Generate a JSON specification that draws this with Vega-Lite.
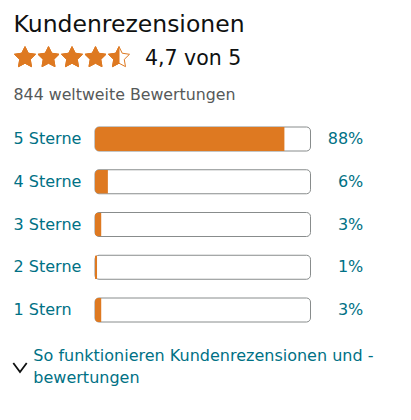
{
  "$schema": "https://vega.github.io/schema/vega-lite/v6.json",
  "width": 411,
  "height": 420,
  "autosize": {"type": "none"},
  "padding": 0,
  "background": "white",
  "config": {"view": {"stroke": null}, "font": "DejaVu Sans"},
  "resolve": {"scale": {"x": "independent"}},
  "layer": [
    {
      "layer": [
        {
          "data": {"values": [{"Zeile": "Titel", "Text": "Kundenrezensionen"}]},
          "mark": {"type": "text", "align": "left", "baseline": "alphabetic", "fontSize": 23.5, "color": "#0F1111", "dy": 21},
          "encoding": {
            "x": {"datum": -0.378, "type": "quantitative", "scale": {"domain": [0, 1], "range": [95, 310.5]}, "axis": null},
            "y": {"field": "Zeile", "type": "nominal", "scale": {"type": "point", "padding": 0, "domain": ["Titel", "Wertung", "Anzahl", "5 Sterne", "4 Sterne", "3 Sterne", "2 Sterne", "1 Stern", "Hinweis"], "range": [10.75, 352.75]}, "axis": null},
            "text": {"field": "Text"}
          }
        },
        {
          "data": {"values": [{"Zeile": "Wertung", "Text": "4,7 von 5"}]},
          "mark": {"type": "text", "align": "left", "baseline": "alphabetic", "fontSize": 20.5, "color": "#0F1111", "dy": 11.5},
          "encoding": {
            "x": {"datum": 0.232, "type": "quantitative", "scale": {"domain": [0, 1], "range": [95, 310.5]}, "axis": null},
            "y": {"field": "Zeile", "type": "nominal", "scale": {"type": "point", "padding": 0, "domain": ["Titel", "Wertung", "Anzahl", "5 Sterne", "4 Sterne", "3 Sterne", "2 Sterne", "1 Stern", "Hinweis"], "range": [10.75, 352.75]}, "axis": null},
            "text": {"field": "Text"}
          }
        },
        {
          "data": {"values": [{"Zeile": "Anzahl", "Text": "844 weltweite Bewertungen"}]},
          "mark": {"type": "text", "align": "left", "baseline": "alphabetic", "fontSize": 15.8, "color": "#565959", "dy": 3.75},
          "encoding": {
            "x": {"datum": -0.378, "type": "quantitative", "scale": {"domain": [0, 1], "range": [95, 310.5]}, "axis": null},
            "y": {"field": "Zeile", "type": "nominal", "scale": {"type": "point", "padding": 0, "domain": ["Titel", "Wertung", "Anzahl", "5 Sterne", "4 Sterne", "3 Sterne", "2 Sterne", "1 Stern", "Hinweis"], "range": [10.75, 352.75]}, "axis": null},
            "text": {"field": "Text"}
          }
        },
        {
          "data": {"name": "balken", "values": [
            {"Zeile": "5 Sterne", "Anteil": 0.88},
            {"Zeile": "4 Sterne", "Anteil": 0.06},
            {"Zeile": "3 Sterne", "Anteil": 0.03},
            {"Zeile": "2 Sterne", "Anteil": 0.01},
            {"Zeile": "1 Stern", "Anteil": 0.03}
          ]},
          "layer": [
            {
              "mark": {"type": "bar", "fill": "white", "stroke": "#888C8C", "strokeWidth": 1, "cornerRadius": 4, "height": 24},
              "encoding": {
                "x": {"datum": 0, "type": "quantitative", "scale": {"domain": [0, 1], "range": [95, 310.5]}, "axis": null},
                "x2": {"datum": 1},
                "y": {"field": "Zeile", "type": "nominal", "scale": {"type": "point", "padding": 0, "domain": ["Titel", "Wertung", "Anzahl", "5 Sterne", "4 Sterne", "3 Sterne", "2 Sterne", "1 Stern", "Hinweis"], "range": [10.75, 352.75]}, "axis": null}
              }
            },
            {
              "mark": {"type": "bar", "fill": "#DE7921", "cornerRadiusTopLeft": 4, "cornerRadiusBottomLeft": 4, "height": 24},
              "encoding": {
                "x": {"field": "Anteil", "type": "quantitative", "scale": {"domain": [0, 1], "range": [95, 310.5]}, "axis": null},
                "y": {"field": "Zeile", "type": "nominal", "scale": {"type": "point", "padding": 0, "domain": ["Titel", "Wertung", "Anzahl", "5 Sterne", "4 Sterne", "3 Sterne", "2 Sterne", "1 Stern", "Hinweis"], "range": [10.75, 352.75]}, "axis": null}
              }
            },
            {
              "mark": {"type": "text", "align": "left", "baseline": "middle", "fontSize": 16, "color": "#007185"},
              "encoding": {
                "x": {"datum": -0.378, "type": "quantitative", "scale": {"domain": [0, 1], "range": [95, 310.5]}, "axis": null},
                "y": {"field": "Zeile", "type": "nominal", "scale": {"type": "point", "padding": 0, "domain": ["Titel", "Wertung", "Anzahl", "5 Sterne", "4 Sterne", "3 Sterne", "2 Sterne", "1 Stern", "Hinweis"], "range": [10.75, 352.75]}, "axis": null},
                "text": {"field": "Zeile"}
              }
            },
            {
              "mark": {"type": "text", "align": "right", "baseline": "middle", "fontSize": 16, "color": "#007185"},
              "encoding": {
                "x": {"datum": 1.245, "type": "quantitative", "scale": {"domain": [0, 1], "range": [95, 310.5]}, "axis": null},
                "y": {"field": "Zeile", "type": "nominal", "scale": {"type": "point", "padding": 0, "domain": ["Titel", "Wertung", "Anzahl", "5 Sterne", "4 Sterne", "3 Sterne", "2 Sterne", "1 Stern", "Hinweis"], "range": [10.75, 352.75]}, "axis": null},
                "text": {"field": "Anteil", "type": "quantitative", "format": ".0%"}
              }
            }
          ]
        },
        {
          "data": {"values": [{"Zeile": "Hinweis", "Text": "So funktionieren Kundenrezensionen und -\nbewertungen"}]},
          "mark": {"type": "text", "align": "left", "baseline": "alphabetic", "fontSize": 16, "color": "#007185", "dy": 8, "lineBreak": "\n", "lineHeight": 22.5},
          "encoding": {
            "x": {"datum": -0.286, "type": "quantitative", "scale": {"domain": [0, 1], "range": [95, 310.5]}, "axis": null},
            "y": {"field": "Zeile", "type": "nominal", "scale": {"type": "point", "padding": 0, "domain": ["Titel", "Wertung", "Anzahl", "5 Sterne", "4 Sterne", "3 Sterne", "2 Sterne", "1 Stern", "Hinweis"], "range": [10.75, 352.75]}, "axis": null},
            "text": {"field": "Text"}
          }
        },
        {
          "data": {"values": [{"Zeile": "Hinweis"}]},
          "mark": {"type": "point", "filled": false, "stroke": "#0F1111", "strokeWidth": 1.8, "opacity": 1, "size": 180, "shape": "M-1,1.53L0,2.87L1,1.53"},
          "encoding": {
            "x": {"datum": -0.348, "type": "quantitative", "scale": {"domain": [0, 1], "range": [95, 310.5]}, "axis": null},
            "y": {"field": "Zeile", "type": "nominal", "scale": {"type": "point", "padding": 0, "domain": ["Titel", "Wertung", "Anzahl", "5 Sterne", "4 Sterne", "3 Sterne", "2 Sterne", "1 Stern", "Hinweis"], "range": [10.75, 352.75]}, "axis": null}
          }
        }
      ]
    },
    {
      "data": {"values": [
        {"Zeile": "Wertung", "Nr": 1, "Fuellung": "voll"},
        {"Zeile": "Wertung", "Nr": 2, "Fuellung": "voll"},
        {"Zeile": "Wertung", "Nr": 3, "Fuellung": "voll"},
        {"Zeile": "Wertung", "Nr": 4, "Fuellung": "voll"},
        {"Zeile": "Wertung", "Nr": 5, "Fuellung": "halb"}
      ]},
      "encoding": {
        "x": {"field": "Nr", "type": "quantitative", "scale": {"domain": [1, 5], "range": [25, 119]}, "axis": null},
        "y": {"field": "Zeile", "type": "nominal", "scale": {"type": "point", "padding": 0, "domain": ["Titel", "Wertung", "Anzahl", "5 Sterne", "4 Sterne", "3 Sterne", "2 Sterne", "1 Stern", "Hinweis"], "range": [10.75, 352.75]}, "axis": null}
      },
      "layer": [
        {
          "mark": {"type": "point", "filled": true, "fill": "white", "stroke": "#DE7921", "strokeWidth": 1, "opacity": 1, "size": 488, "shape": "M0,-0.62L0.294,-0.025L0.951,0.071L0.476,0.535L0.588,1.189L0,0.88L-0.588,1.189L-0.476,0.535L-0.951,0.071L-0.294,-0.025Z"}
        },
        {
          "transform": [{"filter": "datum.Fuellung === 'voll'"}],
          "mark": {"type": "point", "filled": true, "fill": "#DE7921", "stroke": "#DE7921", "strokeWidth": 1, "opacity": 1, "size": 488, "shape": "M0,-0.62L0.294,-0.025L0.951,0.071L0.476,0.535L0.588,1.189L0,0.88L-0.588,1.189L-0.476,0.535L-0.951,0.071L-0.294,-0.025Z"}
        },
        {
          "transform": [{"filter": "datum.Fuellung === 'halb'"}],
          "mark": {"type": "point", "filled": true, "fill": "#DE7921", "stroke": "#DE7921", "strokeWidth": 1, "opacity": 1, "size": 488, "shape": "M0,-0.62L0,0.88L-0.588,1.189L-0.476,0.535L-0.951,0.071L-0.294,-0.025Z"}
        }
      ]
    }
  ]
}
